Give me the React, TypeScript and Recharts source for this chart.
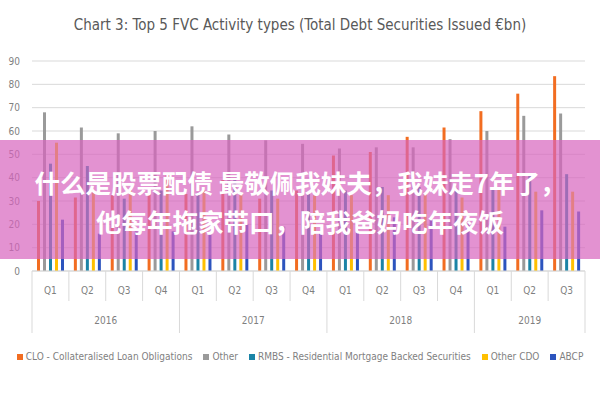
import React from "react";
import { BarChart, Bar, XAxis, YAxis, CartesianGrid, Legend } from "recharts";

const quarters = ["Q1", "Q2", "Q3", "Q4", "Q1", "Q2", "Q3", "Q4", "Q1", "Q2", "Q3", "Q4", "Q1", "Q2", "Q3"];
const years = ["2016", "2016", "2016", "2016", "2017", "2017", "2017", "2017", "2018", "2018", "2018", "2018", "2019", "2019", "2019"];

const clo = [30, 31.5, 32.5, 33, 33, 39, 31, 34.5, 49.5, 51, 57.5, 61.5, 68.5, 76, 83.5];
const other = [68, 61.5, 59, 60, 62, 58.5, 56, 54.5, 52.5, 53, 53, 56.5, 60, 66.5, 67.5];
const rmbs = [46, 45, 31, 34.5, 33.5, 39, 34.5, 33.5, 34.5, 36, 36, 35.5, 35.5, 41.5, 41.5];
const otherCdo = [55, 34.5, 34.5, 41.5, 34.5, 33, 31, 32.5, 32.5, 32.5, 34, 31.5, 36, 34, 34];
const abcp = [22, 16, 17, 17, 16, 20, 19, 17, 20, 23, 23, 20, 19, 26, 25.5];

const yTicks = [0, 10, 20, 30, 40, 50, 60, 70, 80, 90];

const seriesNames = [
  "CLO - Collateralised Loan Obligations",
  "Other",
  "RMBS - Residential Mortgage Backed Securities",
  "Other CDO",
  "ABCP",
];
const seriesKeys = ["clo", "other", "rmbs", "otherCdo", "abcp"];
const seriesColors = ["#F26D21", "#9A9A9A", "#1B84A6", "#FFC000", "#2C54BE"];

const data = quarters.map((q, i) => ({
  q,
  year: years[i],
  clo: clo[i],
  other: other[i],
  rmbs: rmbs[i],
  otherCdo: otherCdo[i],
  abcp: abcp[i],
}));

const FONT = "'Liberation Sans Narrow', 'DejaVu Sans Condensed', 'Liberation Sans', sans-serif";
const CHART_W = 600;
const CHART_H = 400;
const M_LEFT = 0;
const Y_W = 32;
const M_RIGHT = 15;
const BAND = (CHART_W - M_LEFT - Y_W - M_RIGHT) / quarters.length;

function QuarterTick(props: any) {
  const { x, y, payload } = props;
  const i: number = props.index ?? payload.index;
  const left = x - BAND / 2;
  const yr = years[i];
  const first = i === 0 || years[i - 1] !== yr;
  const last = i === quarters.length - 1;
  const count = years.filter((v) => v === yr).length;
  return (
    <g>
      <line x1={left} x2={left} y1={y} y2={y + (first ? 62 : 30)} stroke="#d9d9d9" strokeWidth={1} />
      {last && <line x1={left + BAND} x2={left + BAND} y1={y} y2={y + 62} stroke="#d9d9d9" strokeWidth={1} />}
      <text x={x} y={y + 23} textAnchor="middle" fill="#7f7f7f" fontSize={10} fontFamily={FONT}>
        {payload.value}
      </text>
      {first && (
        <text x={left + (count * BAND) / 2} y={y + 53} textAnchor="middle" fill="#7f7f7f" fontSize={10} fontFamily={FONT}>
          {yr}
        </text>
      )}
    </g>
  );
}

function LegendContent() {
  return (
    <div
      style={{
        display: "flex",
        justifyContent: "center",
        gap: 11,
        fontSize: 10,
        color: "#7f7f7f",
        fontFamily: FONT,
        whiteSpace: "nowrap",
      }}
    >
      {seriesNames.map((n, i) => (
        <span key={n} style={{ display: "inline-flex", alignItems: "center" }}>
          <span style={{ width: 6, height: 6, background: seriesColors[i], display: "inline-block", marginRight: 3 }} />
          {n}
        </span>
      ))}
    </div>
  );
}

export default function App() {
  return (
    <div style={{ position: "absolute", left: 0, top: 0, width: CHART_W, height: CHART_H, background: "#fff", fontFamily: FONT }}>
      <div
        style={{
          position: "absolute",
          top: 16,
          left: 0,
          width: CHART_W,
          textAlign: "center",
          fontSize: 15,
          color: "#595959",
          fontFamily: FONT,
        }}
      >
        Chart 3: Top 5 FVC Activity types (Total Debt Securities Issued €bn)
      </div>
      <BarChart
        width={CHART_W}
        height={CHART_H}
        data={data}
        margin={{ top: 61, right: M_RIGHT, bottom: 59, left: M_LEFT }}
        barSize={3}
        barGap={3}
      >
        <CartesianGrid vertical={false} stroke="#d9d9d9" />
        <XAxis
          dataKey="q"
          interval={0}
          tickLine={false}
          axisLine={{ stroke: "#d9d9d9" }}
          tickSize={0}
          tickMargin={0}
          height={70}
          tick={<QuarterTick />}
        />
        <YAxis
          width={Y_W}
          domain={[0, 90]}
          ticks={yTicks}
          tickLine={false}
          axisLine={false}
          tickMargin={6}
          tick={{ fill: "#7f7f7f", fontSize: 10, fontFamily: FONT }}
        />
        <Legend
          verticalAlign="middle"
          layout="horizontal"
          content={<LegendContent />}
          wrapperStyle={{ position: "absolute", top: 351, left: 0, width: CHART_W }}
        />
        {seriesKeys.map((k, i) => (
          <Bar key={k} dataKey={k} name={seriesNames[i]} fill={seriesColors[i]} isAnimationActive={false} />
        ))}
      </BarChart>
      <div
        style={{
          position: "absolute",
          left: 0,
          top: 140,
          width: CHART_W,
          height: 119,
          background: "rgba(215, 100, 190, 0.7)",
          color: "#ffffff",
          fontFamily: "'Noto Sans CJK SC', sans-serif",
          fontWeight: 700,
          fontSize: 25.5,
          lineHeight: "39px",
          textAlign: "center",
          paddingTop: 22,
          boxSizing: "border-box",
        }}
      >
        <div>什么是股票配债 最敬佩我妹夫，我妹走7年了，</div>
        <div>他每年拖家带口，陪我爸妈吃年夜饭</div>
      </div>
    </div>
  );
}
